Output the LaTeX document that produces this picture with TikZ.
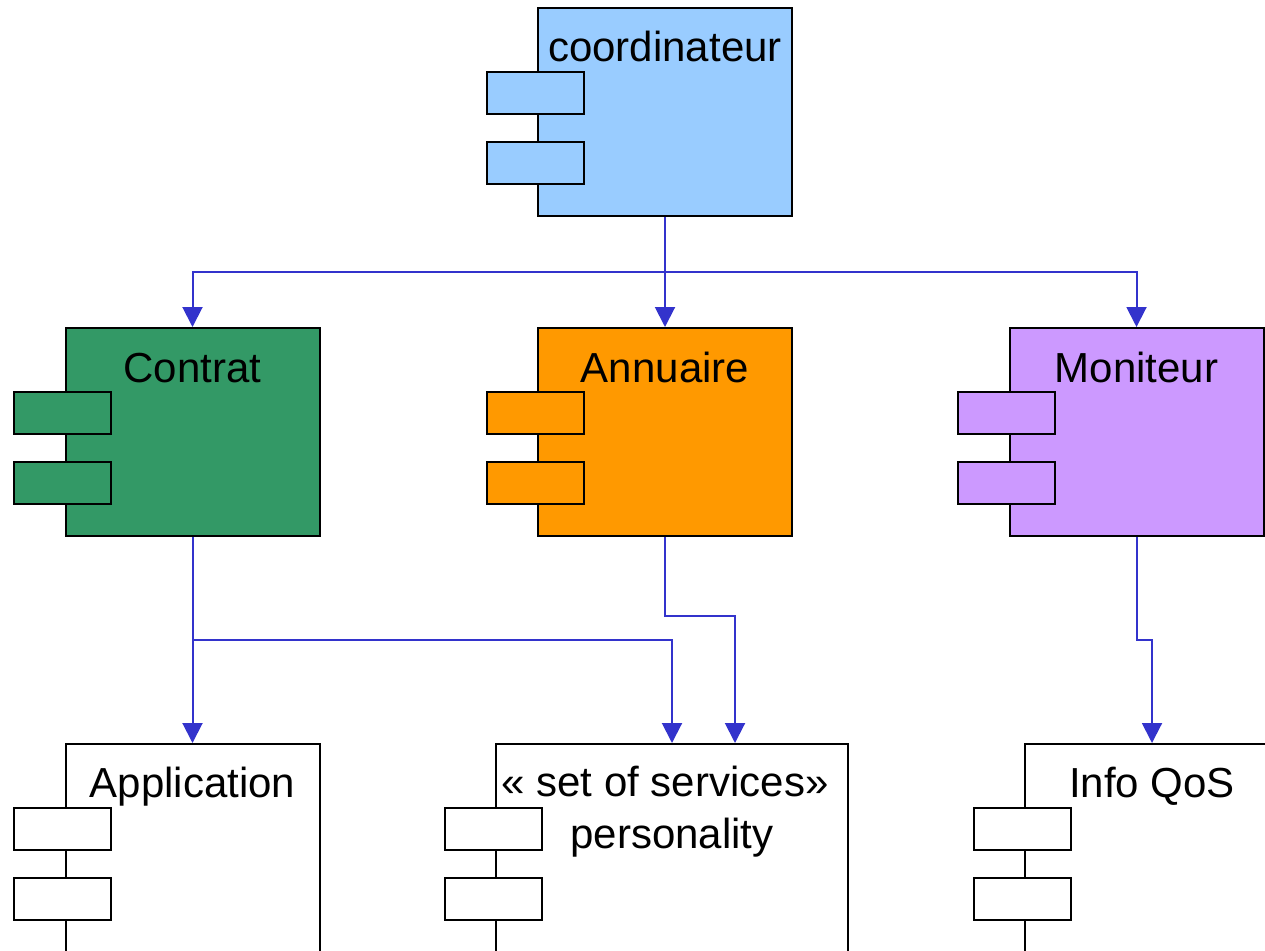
\documentclass[tikz,border=0pt]{standalone}
\usepackage{fontspec}
\setmainfont{Liberation Sans}
\usetikzlibrary{arrows.meta}
\definecolor{cblue}{HTML}{99CCFF}
\definecolor{cgreen}{HTML}{339966}
\definecolor{corange}{HTML}{FF9900}
\definecolor{cpurple}{HTML}{CC99FF}
\definecolor{lineblue}{HTML}{3333CC}
\begin{document}
\begin{tikzpicture}[x=1pt,y=-1pt,
  comp/.style={draw=black, line width=2pt, rectangle, minimum width=254pt, minimum height=208pt, inner sep=0pt},
  port/.style={draw=black, line width=2pt, rectangle, minimum width=97pt, minimum height=42pt, inner sep=0pt},
  lbl/.style={anchor=base, inner sep=0pt, font=\fontsize{42}{52}\selectfont, align=center},
  conn/.style={draw=lineblue, line width=2pt},
  arr/.style={conn, -{Triangle[width=20pt,length=20pt]}}]
\useasboundingbox (0,0) rectangle (1265,950);
\clip (0,0) rectangle (1265,950);
% top component
\node[comp, fill=cblue] (coord) at (665,112) {};
\node[port, fill=cblue] (coordp1) at (535,93) {};
\node[port, fill=cblue] (coordp2) at (535,163) {};
\node[lbl] (coordt) at (665,62) {coordinateur};
% middle row
\node[comp, fill=cgreen] (contrat) at (192.5,432) {};
\node[port, fill=cgreen] (contratp1) at (62.5,413) {};
\node[port, fill=cgreen] (contratp2) at (62.5,483) {};
\node[lbl] (contratt) at (192.5,382) {Contrat};
\node[comp, fill=corange] (annuaire) at (665,432) {};
\node[port, fill=corange] (annuairep1) at (535,413) {};
\node[port, fill=corange] (annuairep2) at (535,483) {};
\node[lbl] (annuairet) at (665,382) {Annuaire};
\node[comp, fill=cpurple] (moniteur) at (1136.5,432) {};
\node[port, fill=cpurple] (moniteurp1) at (1006.5,413) {};
\node[port, fill=cpurple] (moniteurp2) at (1006.5,483) {};
\node[lbl] (moniteurt) at (1136.5,382) {Moniteur};
% bottom row
\node[comp, fill=white] (app) at (192.5,848) {};
\node[port, fill=white] (appp1) at (62.5,829) {};
\node[port, fill=white] (appp2) at (62.5,899) {};
\node[lbl] (appt) at (192.5,797) {Application};
\node[comp, fill=white, minimum width=352pt] (set) at (672,848) {};
\node[port, fill=white] (setp1) at (493.5,829) {};
\node[port, fill=white] (setp2) at (493.5,899) {};
\node[lbl] (sett1) at (665,796) {«~set of services»};
\node[lbl] (sett2) at (672,848) {personality};
\node[comp, fill=white] (info) at (1152,848) {};
\node[port, fill=white] (infop1) at (1022,829) {};
\node[port, fill=white] (infop2) at (1022,899) {};
\node[lbl] (infot) at (1152,797) {Info QoS};
% connectors
\coordinate (j1) at (665,272);
\draw[conn] (coord.south) -- (j1);
\draw[arr] (j1) -| (contrat.north);
\draw[arr] (j1) -- (annuaire.north);
\draw[arr] (j1) -| (moniteur.north);
\coordinate (j2) at (192.5,640);
\draw[arr] (contrat.south) -- (app.north);
\draw[arr] (j2) -| (set.north);
\coordinate (j3) at (665,616);
\coordinate (s2) at ([xshift=63pt]set.north);
\draw[arr] (annuaire.south) -- (j3) -| (s2);
\coordinate (j4) at (1136.5,640);
\draw[arr] (moniteur.south) -- (j4) -| (info.north);
\end{tikzpicture}
\end{document}
